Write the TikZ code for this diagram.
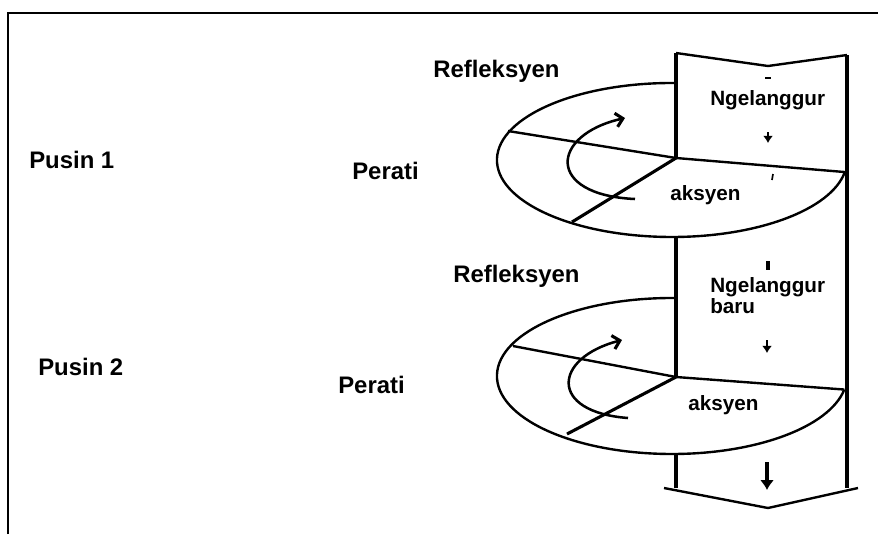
\documentclass[tikz,border=0pt]{standalone}
\usepackage{fontspec}
\setmainfont{Liberation Sans}
\usetikzlibrary{arrows.meta,positioning,calc}

\begin{document}
\begin{tikzpicture}[x=0.025cm, y=-0.025cm,
    lbl/.style={font=\fontsize{17}{20}\selectfont\bfseries, inner sep=0pt, anchor=base west},
    bandlbl/.style={font=\fontsize{14.7}{18}\selectfont\bfseries, inner sep=0pt, anchor=base west},
    rim/.style={line width=1.7pt},
    edge/.style={line width=2.8pt},
    turn/.style={line width=1.8pt, -{Straight Barb[angle=90:7pt, line width=2.2pt]}},
    flowtip/.style={line width=1.6pt, -{Latex[length=5pt,width=7pt]}}]
  \useasboundingbox (0,0) rectangle (878,534);
  % frame
  \draw[line width=1.4pt] (8,534) -- (8,13) -- (878,13);

  % helix turn 1
  \coordinate (c1) at (676,158);
  \draw[rim] (675,83) arc[start angle=271, end angle=9, x radius=175, y radius=77] coordinate (r1);
  \draw[rim] (c1) -- (r1);
  \draw[rim] (c1) -- (508,131);
  \draw[rim, line width=2.2pt] (c1) -- (572,222);
  \draw[turn] (635,199) .. controls (545,195) and (550,135) .. (625,118);

  % helix turn 2
  \coordinate (c2) at (676,377);
  \draw[rim] (675,298) arc[start angle=271, end angle=10, x radius=175, y radius=78] coordinate (r2);
  \draw[rim] (c2) -- (r2);
  \draw[rim] (c2) -- (513,346);
  \draw[rim, line width=2.2pt] (c2) -- (567,434);
  \draw[turn] (628,418) .. controls (548,412) and (553,358) .. (622,340);

  % band
  \draw[edge] (676,53) -- (c1);
  \draw[edge] (676,237) -- (c2);
  \draw[edge] (676,454) -- (676,488);
  \draw[edge] (847,55) -- (847,488);
  \draw[rim] (676,53) -- (768,66) -- (847,55);
  \draw[rim] (664,488) -- (768,508) -- (858,488);

  % marks in the band
  \draw[line width=1.8pt] (765,78) -- (771,78);
  \draw[flowtip] (768,132) -- (768,143);
  \draw[line width=1.2pt] (773,174) -- (772,180);
  \draw[line width=3.2pt] (768,261) -- (768,270);
  \draw[flowtip] (767,340) -- (767,353);
  \draw[line width=3pt, -{Latex[length=7pt,width=10pt]}] (767,462) -- (767,490);

  % labels
  \node[lbl] (pusin1) at (29,168) {Pusin 1};
  \node[lbl] (perati1) at (352,179) {Perati};
  \node[lbl] (refl1) at (433,77) {Refleksyen};
  \node[bandlbl] (ngel1) at (710,105) {Ngelanggur};
  \node[bandlbl] (aks1) at (670,200) {aksyen};
  \node[lbl] (pusin2) at (38,375) {Pusin 2};
  \node[lbl] (perati2) at (338,393) {Perati};
  \node[lbl] (refl2) at (453,282) {Refleksyen};
  \node[bandlbl] (ngel2) at (710,292) {Ngelanggur};
  \node[bandlbl] (baru) at (710,313) {baru};
  \node[bandlbl] (aks2) at (688,410) {aksyen};
\end{tikzpicture}
\end{document}
